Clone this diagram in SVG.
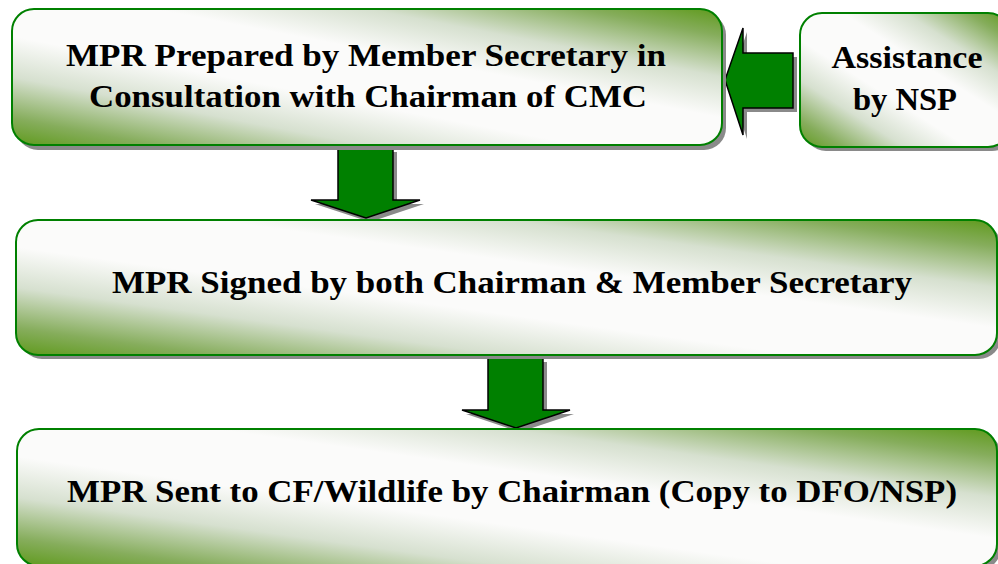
<svg xmlns="http://www.w3.org/2000/svg" width="998" height="564" viewBox="0 0 998 564">
<defs>
<linearGradient id="g" x1="0" y1="1" x2="1" y2="0">
<stop offset="0" stop-color="#5f9a1c"/>
<stop offset="0.1" stop-color="#86ad5c"/>
<stop offset="0.25" stop-color="#d6e0cf"/>
<stop offset="0.4" stop-color="#fbfbfa"/>
<stop offset="0.6" stop-color="#fbfbfa"/>
<stop offset="0.75" stop-color="#d6e0cf"/>
<stop offset="0.9" stop-color="#86ad5c"/>
<stop offset="1" stop-color="#5f9a1c"/>
</linearGradient>
<style>
.box{fill:url(#g);stroke:#008000;stroke-width:2}
.sh{fill:#8a8a8a}
.arr{fill:#008000;stroke:#000;stroke-width:1.5;stroke-linejoin:miter}
.t{font-weight:bold;font-size:32px;fill:#000;text-anchor:middle}
</style>
</defs>
<rect width="998" height="564" fill="#fff"/>
<g id="connectors">
<g id="arrow-nsp">
<polygon class="sh" points="729,84 747,32 747,57 797,57 797,112 747,112 747,139"/>
<polygon class="arr" points="725,80 743,28 743,53 793,53 793,108 743,108 743,135"/>
</g>
<g id="arrow-1">
<polygon class="sh" points="342,152 397,152 397,204 424,204 370,222 315,204 342,204"/>
<polygon class="arr" points="338,148 393,148 393,200 420,200 366,218 311,200 338,200"/>
</g>
<g id="arrow-2">
<polygon class="sh" points="492,362 547,362 547,414 574,414 520,432 466,414 492,414"/>
<polygon class="arr" points="488,358 543,358 543,410 570,410 516,428 462,410 488,410"/>
</g>
</g>
<g font-family="'Liberation Serif', Tinos, 'Times New Roman', serif">
<g id="node-mpr-prepared">
<rect class="sh" x="16" y="13" width="710" height="137" rx="22"/>
<rect class="box" x="12" y="9" width="710" height="136" rx="22"/>
<text class="t" x="366" y="66" textLength="600" lengthAdjust="spacingAndGlyphs">MPR Prepared by Member Secretary in</text>
<text class="t" x="368" y="107" textLength="558" lengthAdjust="spacingAndGlyphs">Consultation with Chairman of CMC</text>
</g>
<g id="node-nsp">
<rect class="sh" x="804" y="17" width="210" height="134" rx="22"/>
<rect class="box" x="800" y="13" width="210" height="134" rx="22"/>
<text class="t" x="907" y="68" textLength="151" lengthAdjust="spacingAndGlyphs">Assistance</text>
<text class="t" x="905" y="110" textLength="104" lengthAdjust="spacingAndGlyphs">by NSP</text>
</g>
<g id="node-mpr-signed">
<rect class="sh" x="20" y="224" width="981" height="135" rx="22"/>
<rect class="box" x="16" y="220" width="981" height="135" rx="22"/>
<text class="t" x="512" y="293" textLength="800" lengthAdjust="spacingAndGlyphs">MPR Signed by both Chairman &amp; Member Secretary</text>
</g>
<g id="node-mpr-sent">
<rect class="sh" x="21" y="433" width="980" height="137" rx="22"/>
<rect class="box" x="17" y="429" width="980" height="137" rx="22"/>
<text class="t" x="512" y="502" textLength="890" lengthAdjust="spacingAndGlyphs">MPR Sent to CF/Wildlife by Chairman (Copy to DFO/NSP)</text>
</g>
</g>
</svg>
